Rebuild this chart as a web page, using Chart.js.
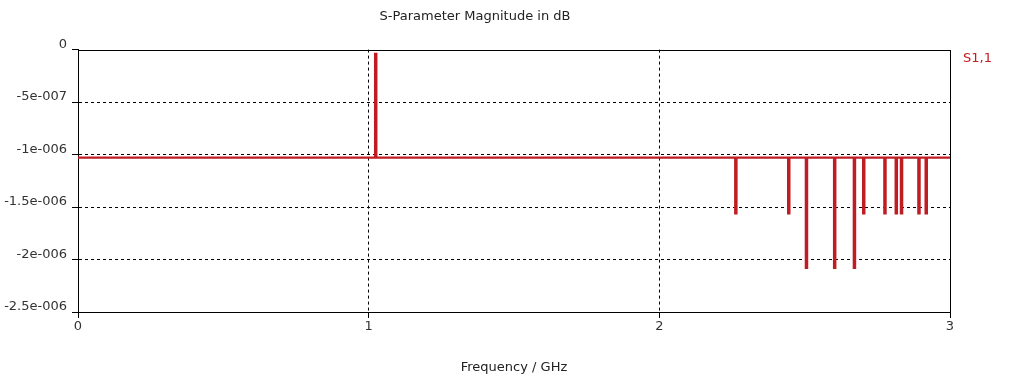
<!DOCTYPE html>
<html>
<head>
<meta charset="utf-8">
<script src="https://cdn.jsdelivr.net/npm/chart.js@4/dist/chart.umd.min.js"></script>
<style>
  html, body { margin: 0; padding: 0; background: #fff; }
  #wrap { width: 1029px; height: 382px; }
</style>
</head>
<body>
<div id="wrap"><canvas id="sparamChart"></canvas></div>
<script>
// S11 magnitude (dB) vs frequency
const seriesName = "S1,1";
const baseLevel = -1.03e-6;
const spikeFreqs = [1.022, 2.261, 2.443, 2.504, 2.601, 2.669, 2.701, 2.774, 2.813, 2.831, 2.891, 2.916];
const spikeValues = [-4e-8, -1.56e-6, -1.56e-6, -2.08e-6, -2.08e-6, -2.08e-6, -1.56e-6, -1.56e-6, -1.56e-6, -1.56e-6, -1.56e-6, -1.56e-6];
const xTicks = [0, 1, 2, 3];
const yTicks = [-2.5e-6, -2e-6, -1.5e-6, -1e-6, -5e-7, 0];
const yTickLabels = ["-2.5e-006", "-2e-006", "-1.5e-006", "-1e-006", "-5e-007", "0"];

const spikeWidth = 0.0045;
const lineColor = "rgb(192, 28, 36)";
const font = { family: "DejaVu Sans", size: 13, weight: "normal" };

function buildTrace() {
  const pts = [{ x: xTicks[0], y: baseLevel }];
  spikeFreqs.forEach((f, i) => {
    pts.push(
      { x: f, y: baseLevel },
      { x: f, y: spikeValues[i] },
      { x: f + spikeWidth, y: spikeValues[i] },
      { x: f + spikeWidth, y: baseLevel }
    );
  });
  pts.push({ x: xTicks[xTicks.length - 1], y: baseLevel });
  return pts;
}

function isEdge(value, min, max) {
  return value === min || value === max;
}

// solid frame around the plot area
const frameBox = {
  id: "frameBox",
  beforeDatasetsDraw(chart) {
    const { ctx, chartArea: a } = chart;
    ctx.save();
    ctx.strokeStyle = "#000";
    ctx.lineWidth = 1;
    ctx.strokeRect(Math.round(a.left) + 0.5, Math.round(a.top) + 0.5,
      Math.round(a.right - a.left), Math.round(a.bottom - a.top));
    ctx.restore();
  },
};

// series name to the right of the plot, like the original
const sideLabel = {
  id: "sideLabel",
  afterDraw(chart) {
    const { ctx, chartArea: a } = chart;
    ctx.save();
    ctx.font = font.size + "px " + font.family;
    ctx.fillStyle = lineColor;
    ctx.textBaseline = "middle";
    ctx.textAlign = "left";
    ctx.fillText(chart.data.datasets[0].label, a.right + 13, a.top + 9);
    ctx.restore();
  },
};

const config = {
  type: "line",
  data: {
    datasets: [
      {
        label: seriesName,
        data: buildTrace(),
        borderColor: lineColor,
        borderWidth: 2.2,
        borderJoinStyle: "miter",
        pointRadius: 0,
        tension: 0,
        fill: false,
      },
    ],
  },
  options: {
    responsive: true,
    maintainAspectRatio: false,
    animation: false,
    layout: { padding: { left: 0, right: 79, top: 0, bottom: 0 } },
    plugins: {
      legend: { display: false },
      tooltip: { enabled: false },
      title: {
        display: true,
        text: "S-Parameter Magnitude in dB",
        color: "#222",
        font: font,
        padding: { top: 9, bottom: 25 },
      },
    },
    scales: {
      x: {
        type: "linear",
        min: 0,
        max: 3,
        afterBuildTicks: (s) => {
          s.ticks = xTicks.map((v) => ({ value: v }));
        },
        afterFit: (s) => {
          s.height = 70;
        },
        grid: {
          color: (c) => (isEdge(c.tick.value, 0, 3) ? "rgba(0,0,0,0)" : "#000"),
          tickColor: "#000",
          tickLength: 6,
          lineWidth: 1,
        },
        border: { display: true, color: "#000", dash: [3, 3] },
        ticks: {
          color: "#333",
          font: font,
          padding: 1,
          maxRotation: 0,
          callback: (v) => String(v),
        },
        title: {
          display: true,
          text: "Frequency / GHz",
          color: "#222",
          font: font,
          padding: { top: 0, bottom: 7 },
        },
      },
      y: {
        type: "linear",
        min: -2.5e-6,
        max: 0,
        afterBuildTicks: (s) => {
          s.ticks = yTicks.map((v) => ({ value: v }));
        },
        afterFit: (s) => {
          s.width = 78;
        },
        grid: {
          color: (c) => (isEdge(c.tick.value, -2.5e-6, 0) ? "rgba(0,0,0,0)" : "#000"),
          tickColor: "#000",
          tickLength: 6,
          lineWidth: 1,
        },
        border: { display: true, color: "#000", dash: [3, 3] },
        ticks: {
          color: "#333",
          font: font,
          padding: 5,
          labelOffset: -5,
          callback: (v) => yTickLabels[yTicks.indexOf(v)],
        },
      },
    },
  },
  plugins: [frameBox, sideLabel],
};

const ctx = document.getElementById("sparamChart").getContext("2d");
new Chart(ctx, config);
</script>
</body>
</html>
